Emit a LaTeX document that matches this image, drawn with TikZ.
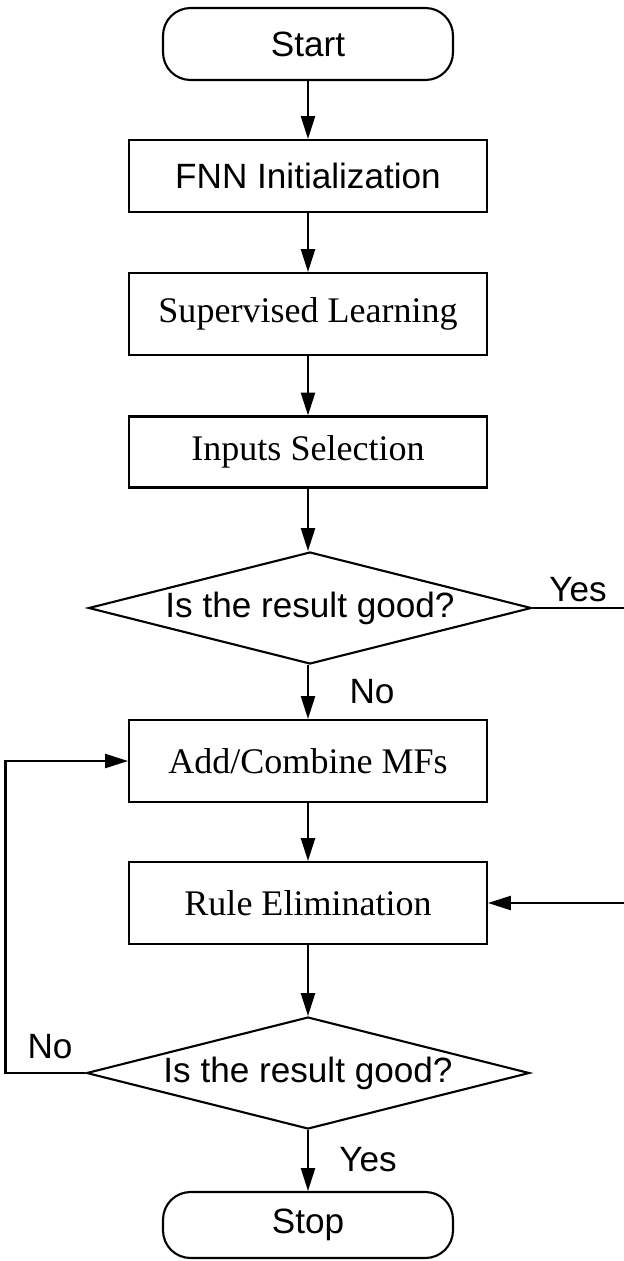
\documentclass[tikz,border=0pt]{standalone}
\usepackage{fontspec}
\setmainfont{Liberation Serif}
\newfontfamily\helv{Liberation Sans}
\usepackage{tikz}
\usetikzlibrary{shapes,arrows.meta,positioning}

\begin{document}
\begin{tikzpicture}[x=0.02cm, y=-0.02cm, line width=1.2pt,
    term/.style={rectangle, draw, rounded corners=0.55cm, minimum width=5.8cm, minimum height=1.44cm, font=\helv\fontsize{20}{24}\selectfont},
    box/.style={rectangle, draw, minimum width=7.16cm, minimum height=1.64cm, align=center, font=\fontsize{20.5}{24}\selectfont},
    sbox/.style={box, font=\helv\fontsize{20}{24}\selectfont},
    decision/.style={diamond, draw, aspect=3.95, inner sep=0pt, minimum width=8.86cm, minimum height=2.24cm, font=\helv\fontsize{20}{24}\selectfont},
    lbl/.style={font=\helv\fontsize{20}{24}\selectfont},
    arrow/.style={-{Triangle[length=13pt,width=8pt]}}
]
    \useasboundingbox (0,0) rectangle (624,1261);

    \node[term] (start) at (308,44) {Start};
    \node[sbox, minimum height=1.44cm] (fnn) at (308,176) {FNN Initialization};
    \node[box] (sup) at (308,314) {Supervised Learning};
    \node[box, minimum height=1.42cm] (inp) at (308,452) {Inputs Selection};
    \node[decision] (dec1) at (310,608) {Is the result good?};
    \node[box] (add) at (308,761) {Add/Combine MFs};
    \node[box] (rule) at (308,903) {Rule Elimination};
    \node[decision] (dec2) at (308,1073) {Is the result good?};
    \node[term, minimum height=1.32cm] (stop) at (308,1225) {Stop};

    \coordinate (yesout) at (624,608);
    \coordinate (yesin) at (624,903);

    \draw[arrow] (start) -- (fnn);
    \draw[arrow] (fnn) -- (sup);
    \draw[arrow] (sup) -- (inp);
    \draw[arrow] (inp) -- (inp |- dec1.north);
    \draw[arrow] (inp |- dec1.south) -- (add);
    \draw[arrow] (add) -- (rule);
    \draw[arrow] (rule) -- (dec2);
    \draw[arrow] (dec2) -- (stop);

    % Yes branch leaves to the right, comes back into rule elimination
    \draw (dec1.east) -- (yesout);
    \draw[arrow] (yesin) -- (rule.east);
    % No branch loops back
    \draw[arrow] (dec2.west) -- ++(-80,0) |- (add.west);

    \node[lbl] (no1) at (372,692) {No};
    \node[lbl] (yes1) at (578,590) {Yes};
    \node[lbl] (no2) at (50,1047) {No};
    \node[lbl] (yes2) at (368,1160) {Yes};
\end{tikzpicture}
\end{document}
